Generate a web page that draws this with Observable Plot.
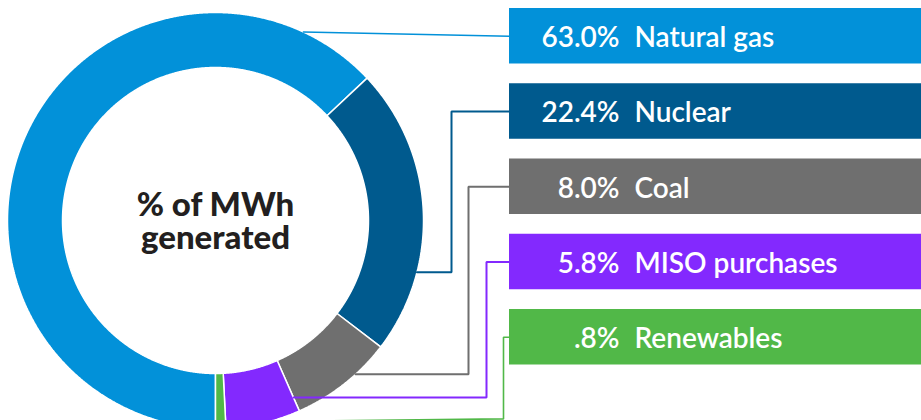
<!DOCTYPE html>
<html>
<head>
<meta charset="utf-8">
<script src="https://cdn.jsdelivr.net/npm/d3@7"></script>
<script src="https://cdn.jsdelivr.net/npm/@observablehq/plot@0.6"></script>
<style>
  html, body { margin: 0; padding: 0; background: #fff; }
  #chart { width: 921px; height: 420px; overflow: hidden; }
  svg { display: block; }
</style>
</head>
<body>
<div id="chart"></div>
<script>
// ---------- data ----------
const categories = ["Natural gas", "Nuclear", "Coal", "MISO purchases", "Renewables"];
const shares = [63.0, 22.4, 8.0, 5.8, 0.8];
const pctLabels = ["63.0%", "22.4%", "8.0%", "5.8%", ".8%"];
const colors = ["#0291d9", "#005a8e", "#6f6f6f", "#8329fe", "#51b848"];
const centerTitle = ["% of MWh", "generated"];

// ---------- layout ----------
const W = 921, H = 420;
const cx = 215, cy = 220, R = 208, r = 153;
const startAngle = Math.PI;             // first slice starts straight down, runs clockwise
const boxX = 509, boxX2 = 940, boxTop = 8, boxStep = 75.25, boxH = 55.5;
const pctX = 619, labelX = 634;
const titleSize = 33, titleBaseline0 = 215, titleLineGap = 33;
// leader anchors: angle in degrees (clockwise from top), radius, elbow x, optional elbow y
const leaderAnchors = [
  {deg: 25, rad: R, ex: null},
  {deg: 104.4, rad: R, ex: 451},
  {deg: 137.7, rad: R, ex: 468},
  {deg: null, rad: 193.5, ex: 486},   // null: starts on the slice's leading edge
  {deg: 165.1, rad: R, ex: 503, ey: 418.4}
];
const leaderWidths = [1.5, 2, 2, 2, 1.6];

// ---------- derived geometry ----------
const pt = (a, rho) => [cx + rho * Math.sin(a), cy - rho * Math.cos(a)];
const total = d3.sum(shares);
let acc = startAngle;
const slices = categories.map((c, i) => {
  const a0 = acc, a1 = acc + shares[i] / total * 2 * Math.PI;
  acc = a1;
  return {cat: c, a0, a1};
});

const arcPts = [];
for (const s of slices) {
  const n = Math.max(2, Math.ceil((s.a1 - s.a0) / (Math.PI / 720)));
  for (let k = 0; k <= n; k++) {
    const a = s.a0 + (s.a1 - s.a0) * k / n;
    const [x, y] = pt(a, R);
    arcPts.push({cat: s.cat, x, y});
  }
  for (let k = n; k >= 0; k--) {
    const a = s.a0 + (s.a1 - s.a0) * k / n;
    const [x, y] = pt(a, r);
    arcPts.push({cat: s.cat, x, y});
  }
}

const boxes = categories.map((c, i) => ({
  cat: c, pct: pctLabels[i],
  x1: boxX, x2: boxX2,
  y1: boxTop + i * boxStep, y2: boxTop + i * boxStep + boxH,
  mid: boxTop + i * boxStep + boxH / 2
}));

const leaderPts = [];
categories.forEach((c, i) => {
  const L = leaderAnchors[i];
  const a = L.deg == null ? slices[i].a0 : L.deg * Math.PI / 180;
  const [ax, ay] = pt(a, L.rad);
  const mid = boxes[i].mid;
  const path = L.ex == null
    ? [[ax, ay], [boxX, mid]]
    : [[ax, ay], [L.ex, L.ey ?? ay], [L.ex, mid], [boxX, mid]];
  path.forEach(([x, y]) => leaderPts.push({cat: c, x, y, w: leaderWidths[i]}));
});

const titleRows = centerTitle.map((t, i) => ({t, y: titleBaseline0 + i * titleLineGap - 0.32 * titleSize}));

const font = "Lato, 'Open Sans', sans-serif";

const chart = Plot.plot({
  width: W, height: H,
  margin: 0,
  style: {background: "#fff", fontFamily: font, overflow: "hidden"},
  x: {domain: [0, W], range: [0, W], axis: null},
  y: {domain: [0, H], range: [0, H], axis: null},
  color: {domain: categories, range: colors},
  marks: [
    // donut slices
    Plot.line(arcPts, {x: "x", y: "y", z: "cat", fill: "cat", stroke: "white", strokeWidth: 1.5,
      curve: "linear-closed", strokeLinejoin: "miter"}),
    // leader lines
    ...categories.map((c, i) => Plot.line(leaderPts.filter(d => d.cat === c), {
      x: "x", y: "y", stroke: "cat", strokeWidth: leaderWidths[i], strokeLinejoin: "miter"
    })),
    // label boxes
    Plot.rect(boxes, {x1: "x1", x2: "x2", y1: "y1", y2: "y2", fill: "cat"}),
    Plot.text(boxes, {x: () => pctX, y: d => d.mid + 2, text: "pct", textAnchor: "end",
      fill: "white", fontSize: 28, fontWeight: 600, fontFamily: font}),
    Plot.text(boxes, {x: () => labelX, y: d => d.mid + 2, text: "cat", textAnchor: "start",
      fill: "white", fontSize: 28, fontWeight: 600, fontFamily: font}),
    // center title
    Plot.text(titleRows, {x: () => cx, y: "y", text: "t",
      textAnchor: "middle", lineAnchor: "middle",
      fill: "#231f20", fontSize: titleSize, fontWeight: 900, fontFamily: font})
  ]
});
document.getElementById("chart").appendChild(chart);
</script>
</body>
</html>
